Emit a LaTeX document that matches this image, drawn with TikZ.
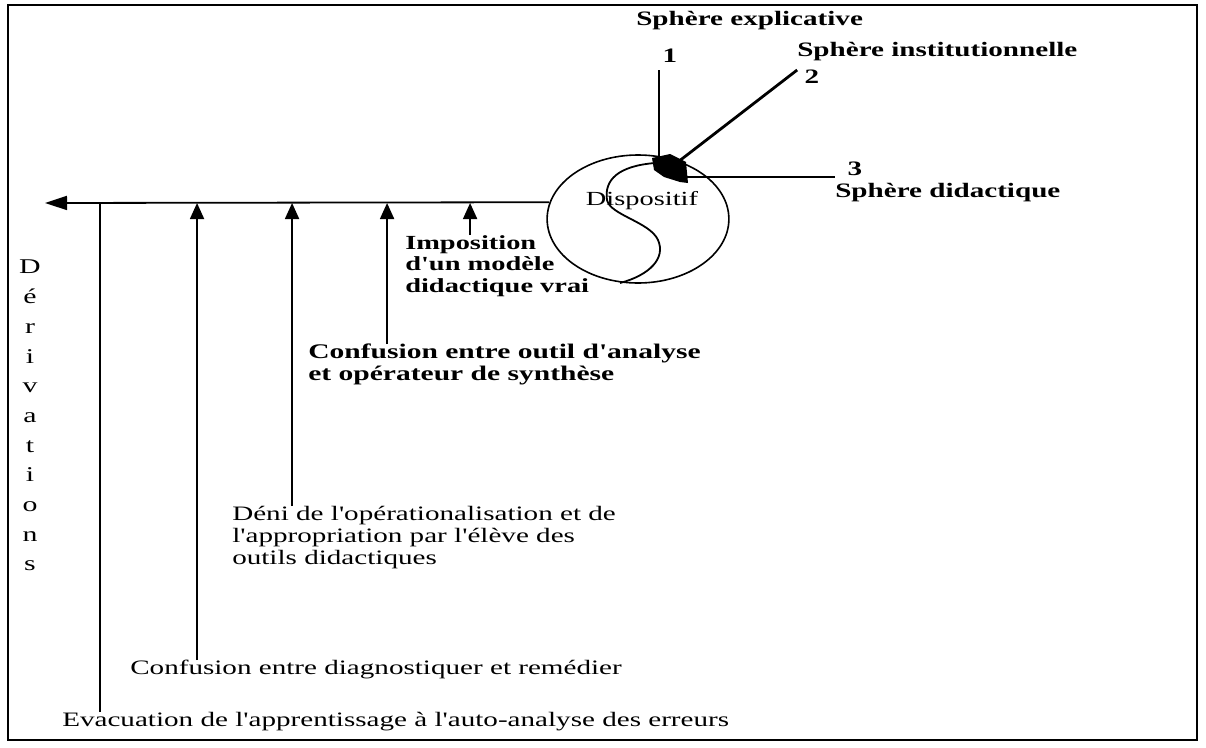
\documentclass[tikz,border=0pt]{standalone}
\usepackage{fontspec}
\setmainfont{Liberation Serif}
\usetikzlibrary{arrows.meta, positioning}

\newcommand{\sq}{\textquotesingle}

\tikzset{
  txt/.style={inner sep=0pt, align=left, font=\fontsize{20.5}{22}\selectfont},
  txtb/.style={inner sep=0pt, align=left, font=\fontsize{20}{21.5}\selectfont\bfseries},
  sphere/.style={inner sep=0pt, font=\fontsize{20.5}{24}\selectfont\bfseries},
  stem/.style={line width=1.8pt},
  up/.style={stem, -{Triangle[length=16pt,width=14pt]}},
}

\begin{document}
\begin{tikzpicture}[x=0.70423pt, y=-1pt, xscale=1.42, transform shape]
  \useasboundingbox (0,0) rectangle (1206,747);
  \draw[line width=1.5pt] (8,5) rectangle (1197,740);

  \node[circle, draw, line width=1.6pt, minimum size=128pt, inner sep=0pt] (circ) at (638,219) {};
  \node[inner sep=0pt, font=\fontsize{20}{22}\selectfont] (dispo) at (642,201) {Dispositif};
  \draw[stem] (655,163) .. controls (618,166) and (604,180) .. (607,200)
    .. controls (610,215) and (650,222) .. (658,240)
    .. controls (666,258) and (650,275) .. (620,283);
  \fill (652,158) -- (670,154) -- (686,162) -- (688,183) -- (680,182) -- (664,177) -- (654,170) -- cycle;
  \coordinate (hub) at (670,168);

  \node[sphere] (n1) at (670,56) {1};
  \node[sphere] (n2) at (812,77) {2};
  \node[sphere] (n3) at (855,169) {3};
  \node[sphere, anchor=west] (expl) at (636,21) {Sphère explicative};
  \node[sphere, anchor=west] (inst) at (797,52) {Sphère institutionnelle};
  \node[sphere, anchor=west] (dida) at (835,193) {Sphère didactique};
  \coordinate (e1) at (659,70);
  \coordinate (e2) at (797,70);
  \coordinate (e3) at (835,177);
  \draw[stem] (hub -| e1) -- (e1);
  \draw[line width=2.8pt] (hub) -- (e2);
  \draw[stem] (hub |- e3) -- (e3);

  \coordinate (tip) at (45,203);
  \coordinate (a1) at (100,203);
  \coordinate (a2) at (197,203);
  \coordinate (a3) at (292,203);
  \coordinate (a4) at (387,203);
  \coordinate (a5) at (470,203);
  \draw[stem, -{Triangle[length=22pt,width=14pt]}] (circ.165) -- (tip);

  \node[txtb, anchor=north west] (impo) at (405,235) {Imposition\\d\sq un modèle\\didactique vrai};
  \node[txtb, anchor=north west, font=\fontsize{20.8}{22}\selectfont\bfseries] (outil) at (308,344) {Confusion entre outil d\sq analyse\\et opérateur de synthèse};
  \node[txt, anchor=north west] (deni) at (232,506) {Déni de l\sq opérationalisation et de\\l\sq appropriation par l\sq élève des\\outils didactiques};
  \node[txt, anchor=north west] (diag) at (130,660) {Confusion entre diagnostiquer et remédier};
  \node[txt, anchor=north west] (evac) at (62,712) {Evacuation de l\sq apprentissage à l\sq auto-analyse des erreurs};

  \draw[stem] (evac.north -| a1) -- (a1);
  \draw[up] (diag.north -| a2) -- (a2);
  \draw[up] (deni.north -| a3) -- (a3);
  \draw[up] (outil.north -| a4) -- (a4);
  \draw[up] (impo.north -| a5) -- (a5);

  \node[inner sep=0pt, align=center, anchor=north, font=\fontsize{21}{29.7}\selectfont] (deriv) at (30,260)
    {D\\é\\r\\i\\v\\a\\t\\i\\o\\n\\s};
\end{tikzpicture}
\end{document}
